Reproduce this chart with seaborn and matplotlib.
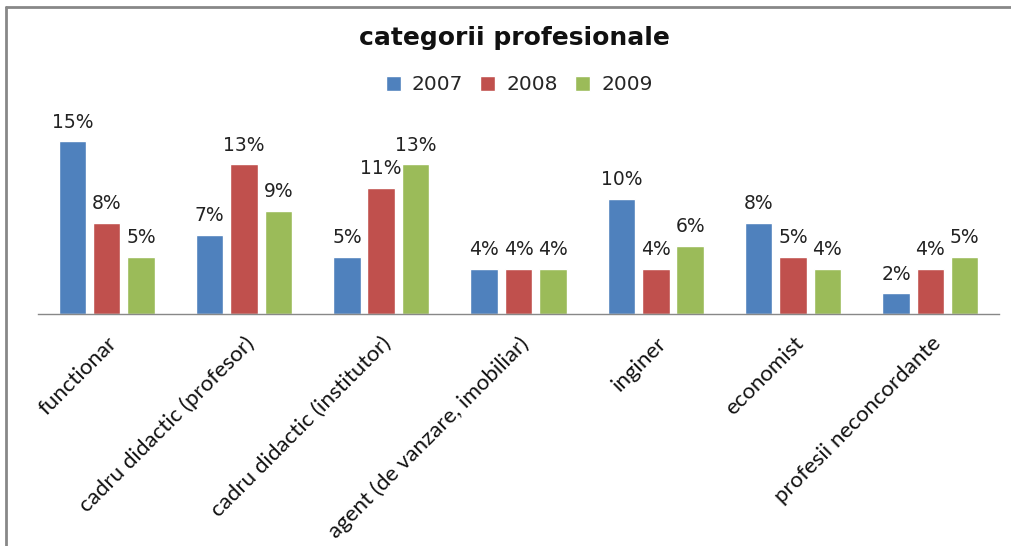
import pandas as pd
import matplotlib
matplotlib.use("Agg")
import matplotlib.pyplot as plt
import seaborn as sb
from matplotlib.lines import Line2D

categorii = ["functionar", "cadru didactic (profesor)", "cadru didactic (institutor)",
             "agent (de vanzare, imobiliar)", "inginer", "economist", "profesii neconcordante"]
ani = ["2007", "2008", "2009"]

# values (percent)
v_2007 = [15.0, 6.9, 4.95, 3.9, 10.0, 7.9, 1.8]
v_2008 = [7.9, 13.0, 11.0, 3.9, 3.9, 4.95, 3.9]
v_2009 = [4.95, 9.0, 13.0, 3.9, 5.9, 3.9, 4.95]

culori = ["#4F81BD", "#C0504D", "#9BBB59"]


def main():
    rows = {"categorie": [], "an": [], "valoare": []}
    for an, vals in zip(ani, [v_2007, v_2008, v_2009]):
        rows["categorie"].extend(categorii)
        rows["an"].extend([an] * len(vals))
        rows["valoare"].extend(vals)
    df = pd.DataFrame(rows)

    sb.set_style("white")
    plt.rcParams["font.family"] = ["DejaVu Sans"]

    fig = plt.figure(figsize=(10.12, 5.46), dpi=100)
    ax = fig.add_axes([38 / 1012, 1 - 314 / 546, 961 / 1012, 184 / 546])

    g = sb.barplot(data=df, x="categorie", y="valoare", hue="an", palette=culori,
                   width=0.75, gap=0.2, ax=ax, legend=True, saturation=1)

    for cont in g.containers:
        g.bar_label(cont, labels=[f"{round(b.get_height())}%" for b in cont],
                    padding=7, fontsize=13.5, color="#222222")

    g.set_ylim(0, 16)
    g.set_xlim(-0.5, 6.5)
    g.set(xlabel="", ylabel="", yticks=[])
    for s in ["top", "right", "left"]:
        g.spines[s].set_visible(False)
    g.spines["bottom"].set_color("#888888")
    g.spines["bottom"].set_linewidth(1)
    g.tick_params(axis="x", length=0, pad=14)
    plt.setp(g.get_xticklabels(), rotation=45, ha="right", rotation_mode="anchor",
             fontsize=16, family="Lato", color="#111111")

    h, l = g.get_legend_handles_labels()
    g.legend(h, l, loc="center", bbox_to_anchor=(0.513, 1 - 85 / 546),
             bbox_transform=fig.transFigure, ncol=3, frameon=False, fontsize=14.5,
             handlelength=0.75, handleheight=0.75, handletextpad=0.55, columnspacing=0.85)

    fig.text(0.508, 1 - 38 / 546, "categorii profesionale", ha="center", va="center",
             fontsize=18, fontweight="bold", color="#111111")

    # chart frame (left and top edges visible)
    fig.add_artist(Line2D([6.5 / 1012, 6.5 / 1012], [0, 1 - 6.5 / 546],
                          transform=fig.transFigure, color="#888888", lw=2))
    fig.add_artist(Line2D([6.5 / 1012, 1], [1 - 6.5 / 546, 1 - 6.5 / 546],
                          transform=fig.transFigure, color="#888888", lw=2))

    fig.savefig("out.png", dpi=100)
    plt.close(fig)


if __name__ == "__main__":
    main()
